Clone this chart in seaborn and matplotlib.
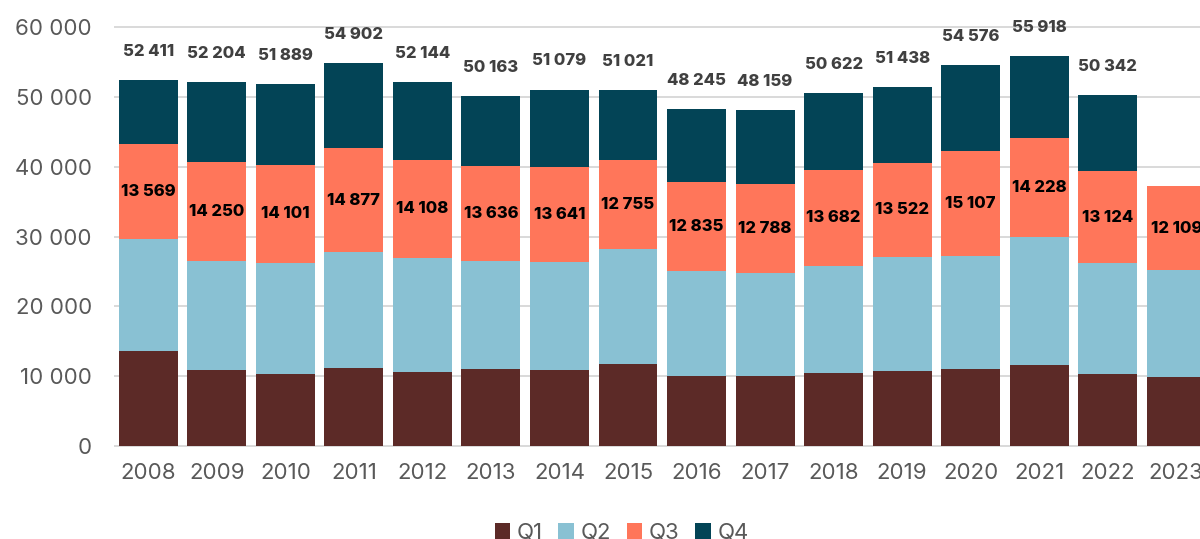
import numpy as np
import pandas as pd
import seaborn as sns
import matplotlib.pyplot as plt
from matplotlib.patches import Patch
from matplotlib.ticker import FuncFormatter, MultipleLocator

# ---- data ----
years = [str(y) for y in range(2008, 2024)]
q1 = [13570, 10920, 10330, 11210, 10620, 11020, 10830, 11790,
      10040, 10100, 10480, 10780, 11060, 11600, 10330, 9860]
q2 = [16090, 15580, 15890, 16580, 16310, 15480, 15530, 16430,
      14990, 14690, 15350, 16300, 16120, 18300, 15890, 15310]
q3 = [13569, 14250, 14101, 14877, 14108, 13636, 13641, 12755,
      12835, 12788, 13682, 13522, 15107, 14228, 13124, 12109]
q4 = [9182, 11454, 11568, 12235, 11106, 10027, 11078, 10046,
      10380, 10581, 11110, 10836, 12289, 11790, 10998, 0]
totals = [52411, 52204, 51889, 54902, 52144, 50163, 51079, 51021,
          48245, 48159, 50622, 51438, 54576, 55918, 50342]
series_names = ["Q1", "Q2", "Q3", "Q4"]
colors = ["#5C2A27", "#89C1D3", "#FF765A", "#034456"]

sns.set_theme(style="white")
plt.rcParams['font.family'] = ['Inter', 'DejaVu Sans']

fig = plt.figure(figsize=(12, 5.39), dpi=100)
ax = fig.add_axes([0.095, 0.1673, 0.9138, 0.7951])

stack = np.array([q1, q2, q3, q4], dtype=float)
cum = np.cumsum(stack, axis=0)

for i in reversed(range(4)):
    df = pd.DataFrame({"year": years, "value": cum[i]})
    sns.barplot(data=df, x="year", y="value", color=colors[i], width=0.86,
                saturation=1, errorbar=None, ax=ax, edgecolor="none", linewidth=0)

ax.set_xlim(-0.5, len(years) - 0.5)
ax.set_ylim(-400, 61000)
ax.yaxis.set_major_locator(MultipleLocator(10000))
ax.yaxis.set_major_formatter(FuncFormatter(lambda v, p: f"{int(v):,}".replace(",", " ")))
ax.set_axisbelow(True)
ax.yaxis.grid(True, color="#D9D9D9", linewidth=1.4)
ax.xaxis.grid(False)
for s in ax.spines.values():
    s.set_visible(False)
ax.set_xlabel("")
ax.set_ylabel("")
ax.tick_params(axis="x", length=0, pad=10, labelsize=16, colors="#595959")
ax.tick_params(axis="y", length=0, pad=16, labelsize=16, colors="#595959")

# total labels
for i, t in enumerate(totals):
    ax.text(i, t + 4100, f"{t:,}".replace(",", " "), ha="center", va="center",
            fontsize=12, fontweight="heavy", color="#404040")

# Q3 labels
for i, v in enumerate(q3):
    ax.text(i, (cum[1][i] + cum[2][i]) / 2, f"{v:,}".replace(",", " "),
            ha="center", va="center", fontsize=12, fontweight="heavy", color="black")

handles = [Patch(facecolor=c, edgecolor="none") for c in colors]
leg = fig.legend(handles, series_names, loc="center", bbox_to_anchor=(0.518, 0.012),
                 ncol=4, frameon=False, fontsize=16, handlelength=0.7, handleheight=0.7,
                 handletextpad=0.3, columnspacing=0.7)
for txt in leg.get_texts():
    txt.set_color("#595959")

fig.savefig("out.png", dpi=100)
